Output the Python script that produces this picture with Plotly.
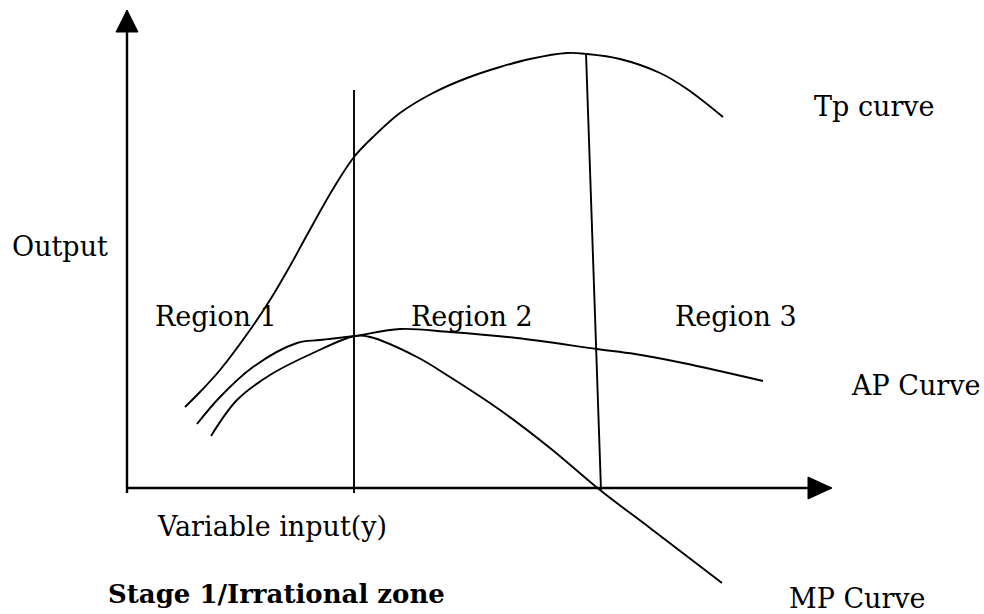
import plotly.graph_objects as go

# points (units ~ pixels from the origin)
tp_x = [58, 73, 93, 123, 143, 163, 180, 206, 227, 246, 273, 306, 340, 373, 403, 440, 460, 493, 533, 560, 596]
tp_y = [81, 96, 118, 158, 188, 222, 253, 299, 331, 351, 375, 395, 410, 421, 429, 435, 434, 429, 415, 399, 371]

ap_x = [70, 93, 126, 170, 193, 228, 273, 323, 390, 470, 508, 556, 636]
ap_y = [64, 91, 121, 145, 148, 152, 159, 156, 150, 139, 134, 125, 107]

mp_x = [84, 110, 143, 186, 228, 243, 290, 323, 373, 423, 473, 523, 595]
mp_y = [52, 88, 113, 135, 152, 151, 131, 111, 78, 40, -2, -40, -95]

# stage boundaries
line1_x = [227, 227]
line1_y = [-5, 398]
line2_x = [459, 474]
line2_y = [435, -2]

labels = ["Output", "Tp curve", "Region 1", "Region 2", "Region 3",
          "AP Curve", "MP Curve", "Variable input(y)"]
label_x = [-117, 685, 26, 282, 546, 722, 660, 28]
label_y = [242, 382, 172, 172, 172, 103, -110, -38]

FONT = "DejaVu Serif"

fig = go.Figure()

line = dict(color="black", width=1.9)
fig.add_trace(go.Scatter(x=tp_x, y=tp_y, mode="lines", line=dict(line, shape="spline")))
fig.add_trace(go.Scatter(x=ap_x, y=ap_y, mode="lines", line=dict(line, shape="spline")))
fig.add_trace(go.Scatter(x=mp_x, y=mp_y, mode="lines", line=dict(line, shape="spline")))
fig.add_trace(go.Scatter(x=line1_x, y=line1_y, mode="lines", line=line))
fig.add_trace(go.Scatter(x=line2_x, y=line2_y, mode="lines", line=line))

# axes with arrow heads
ax = dict(color="black", width=2.4)
fig.add_trace(go.Scatter(x=[0, 0], y=[-5, 458], mode="lines", line=ax))
fig.add_trace(go.Scatter(x=[0, 683], y=[0, 0], mode="lines", line=ax))
fig.add_trace(go.Scatter(x=[-11, 11, 0, -11], y=[456, 456, 478, 456], mode="lines",
                         fill="toself", fillcolor="black", line=dict(color="black", width=1)))
fig.add_trace(go.Scatter(x=[681, 681, 705, 681], y=[11, -11, 0, 11], mode="lines",
                         fill="toself", fillcolor="black", line=dict(color="black", width=1)))

for t, x, y in zip(labels, label_x, label_y):
    fig.add_annotation(x=x, y=y, text=t, showarrow=False, xanchor="left", yanchor="middle",
                       font=dict(family=FONT, size=27, color="black"))

fig.add_annotation(x=-21, y=-106, text="<b>Stage 1/Irrational zone</b>", showarrow=False,
                   xanchor="left", yanchor="middle",
                   font=dict(family=FONT, size=26, color="black"))

fig.update_layout(
    width=984,
    height=614,
    autosize=False,
    margin=dict(l=0, r=0, t=0, b=0),
    paper_bgcolor="white",
    plot_bgcolor="white",
    showlegend=False,
    hovermode=False,
    xaxis=dict(range=[-127, 857], visible=False, fixedrange=True),
    yaxis=dict(range=[-126, 488], visible=False, fixedrange=True),
)

# drop the default body margin so the figure fills the window without scrollbars
fig.write_html("out.html", config={"displayModeBar": False},
               post_script="document.body.style.margin='0';document.body.style.overflow='hidden';")
